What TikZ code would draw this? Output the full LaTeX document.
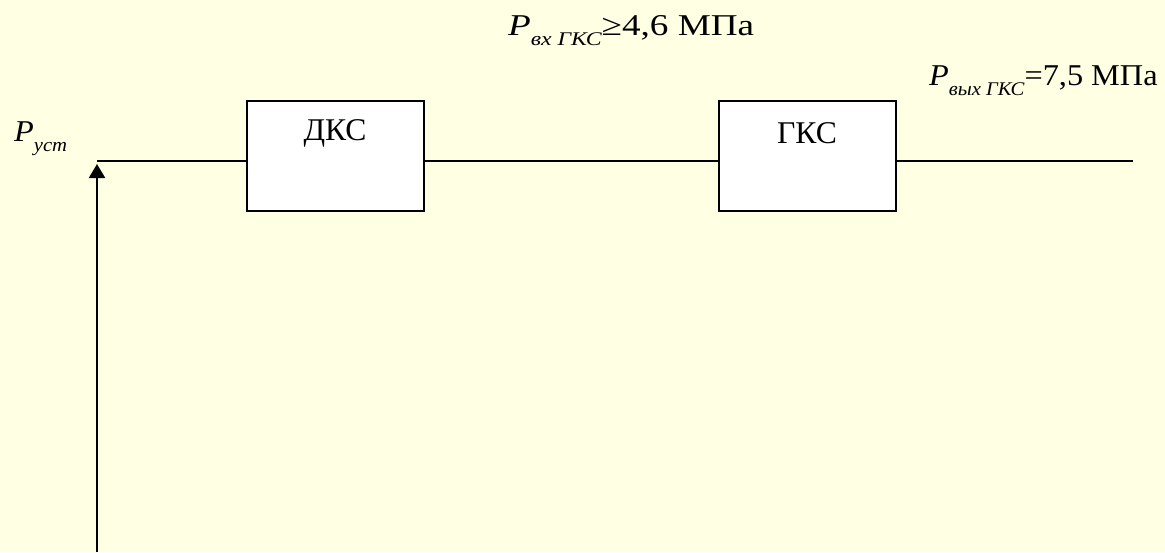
\documentclass[tikz,border=0pt]{standalone}
\usepackage{fontspec}
\setmainfont{Liberation Serif}
\newfontfamily\widefont[FakeStretch=1.23]{Liberation Serif}
\newfontfamily\narrowfont[FakeStretch=1.07]{Liberation Serif}
\usetikzlibrary{arrows.meta}
\definecolor{paper}{RGB}{255,255,228}
\newcommand{\lowsub}[1]{\raisebox{-0.36em}{\fontsize{11}{11}\selectfont\itshape #1}}

\begin{document}
\begin{tikzpicture}[x=0.02cm, y=-0.02cm, line width=1.25pt,
    station/.style={draw, fill=white, minimum width=3.54cm, minimum height=2.2cm, inner sep=0pt},
    caption/.style={font=\fontsize{18}{20}\selectfont, inner sep=0pt},
    pressure/.style={font=\widefont\fontsize{17.2}{20}\selectfont, inner sep=0pt, anchor=base west}]
    \fill[paper] (0,0) rectangle (1165,552);
    \useasboundingbox (0,0) rectangle (1165,552);

    % Compressor stations
    \node[station] (dks) at (335.5,156) {};
    \node[caption] (dkstext) at (335,133) {ДКС};
    \node[station] (gks) at (807.5,156) {};
    \node[caption] (gkstext) at (807,133) {ГКС};

    % Pipeline
    \coordinate (start) at (97,161);
    \coordinate (finish) at (1133,161);
    \coordinate (base) at (97,552);
    \draw (start) -- (start -| dks.west);
    \draw (start -| dks.east) -- (start -| gks.west);
    \draw (start -| gks.east) -- (finish);
    \draw[-{Triangle[width=0.32cm,length=0.28cm]}, shorten >=0.06cm] (base) -- (start);

    % Pressures
    \node[pressure, font=\narrowfont\fontsize{17.2}{20}\selectfont] (pust) at (13,141) {\textit{P}\lowsub{уст}};
    \node[pressure] (pin) at (507,35) {\textit{P}\lowsub{вх ГКС}≥4,6 МПа};
    \node[pressure, font=\narrowfont\fontsize{17.2}{20}\selectfont] (pout) at (928,85)
        {\textit{P}\lowsub{вых ГКС}=7,5 МПа};
\end{tikzpicture}
\end{document}
